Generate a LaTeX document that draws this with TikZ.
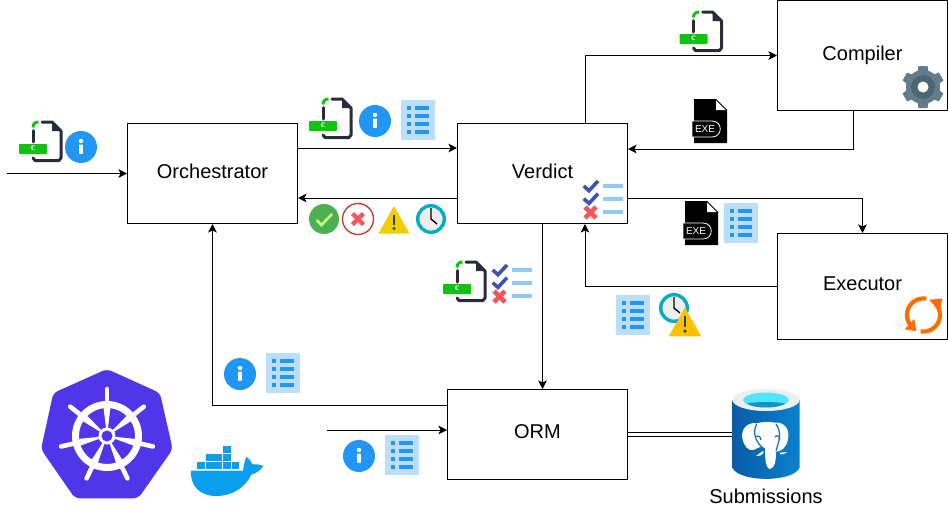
\documentclass[tikz,border=0pt]{standalone}
\usepackage{fontspec}
\setmainfont{Liberation Sans}
\newfontfamily\tagfont{Liberation Serif}
\usepackage{xcolor}
\usetikzlibrary{arrows.meta, calc, positioning}
\definecolor{filedark}{HTML}{282C3A}
\definecolor{tagblue}{HTML}{2196F3}
\definecolor{paleblue}{HTML}{BBDEFB}
\definecolor{barblue}{HTML}{90CAF9}
\definecolor{taggreen}{HTML}{11C211}
\definecolor{tickblue}{HTML}{3F51B5}
\definecolor{crossred}{HTML}{F4575A}
\definecolor{okgreen}{HTML}{4CAF50}
\definecolor{oktick}{HTML}{CCFF90}
\definecolor{ringred}{HTML}{D32F2F}
\definecolor{warnyellow}{HTML}{F2CD00}
\definecolor{warnamber}{HTML}{FFC107}
\definecolor{clockteal}{HTML}{00ACC1}
\definecolor{clockface}{HTML}{EEEEEE}
\definecolor{gearblue}{HTML}{607D8B}
\definecolor{gearslate}{HTML}{4F6672}
\definecolor{looporange}{HTML}{FF6D00}
\definecolor{kubeblue}{HTML}{5036E8}
\definecolor{dockerblue}{HTML}{0B9EEC}
\definecolor{dbblue}{HTML}{0B6CC4}
\definecolor{dbcyan}{HTML}{50E6FF}
\definecolor{dbdeep}{HTML}{1B93C1}
\tikzset{
  service/.style={draw, line width=1pt, minimum width=170pt, inner sep=0pt, text depth=5pt, font=\fontsize{20}{24}\selectfont},
  flow/.style={line width=1pt, -{Stealth[length=8.5pt, width=8.5pt, inset=2pt]}},
  cfile/.pic={
    \draw[filedark, line width=3pt, line cap=round, line join=round] (10,1) -- (20,1) -- (29,10) -- (29,37) -- (27,39.5) -- (3,39.5) -- (1,37);
    \draw[filedark, line width=3pt, line cap=round] (1,9.5) -- (1,21);
    \fill[filedark] (20,1) -- (29,10) -- (20,10) -- cycle;
    \draw[taggreen, line width=3pt] (1,6.5) .. controls (1,3) and (3,1) .. (6.5,1);
    \fill[taggreen, rounded corners=0.8pt] (-13,23) rectangle (15,33);
    \node[text=white, inner sep=0pt, font=\tagfont\bfseries\fontsize{10}{10}\selectfont] (-tag) at (1,27.3) {c};
  },
  infoicon/.pic={
    \fill[tagblue] (0,0) circle (16);
    \fill[white] (0,-6) circle (2.2);
    \fill[white, rounded corners=0.5pt] (-1.9,-2.3) rectangle (1.9,6.8);
  },
  listicon/.pic={
    \fill[paleblue] (0,0) rectangle (34,40);
    \foreach \y in {7.7, 15.7, 23.7, 31.7} {
      \fill[tagblue] (5.7,\y-2) rectangle (9.7,\y+2);
      \fill[tagblue] (14,\y-2) rectangle (28,\y+2);
    }
  },
  checkicon/.pic={
    \foreach \y in {0, 12.7}
      \draw[tickblue, line width=3.6pt] (0.7,6+\y) -- (6,10.7+\y) -- (15,1+\y);
    \draw[crossred, line width=4.6pt] (2,27) -- (13,38);
    \draw[crossred, line width=4.6pt] (13,27) -- (2,38);
    \foreach \y in {4, 17, 30}
      \fill[barblue] (20,\y) rectangle (40,\y+4);
  },
  okicon/.pic={
    \fill[okgreen] (0,0) circle (15);
    \draw[oktick, line width=2.6pt] (-7.5,1) -- (-2.5,6) -- (8,-5);
  },
  failicon/.pic={
    \draw[ringred, line width=1.3pt, fill=white] (0,0) circle (15.5);
    \draw[crossred, line width=4.4pt] (-5.5,-5.5) -- (5.5,5.5);
    \draw[crossred, line width=4.4pt] (5.5,-5.5) -- (-5.5,5.5);
  },
  warnicon/.pic={
    \fill[pic actions, rounded corners=0.8pt] (0,0) -- (15.5,27.5) -- (-15.5,27.5) -- cycle;
    \draw[gearslate!60!black, line width=2.6pt] (0,8.5) -- (0,19);
    \fill[gearslate!60!black] (0,22.5) circle (1.7);
  },
  clockicon/.pic={
    \draw[clockteal, line width=3.4pt, fill=clockface] (0,0) circle (13.3);
    \draw[black, line width=1.4pt] (0,-11) -- (0,0) -- (6,5);
  },
  exefile/.pic={
    \fill[black] (0,0) -- (22,0) -- (33,11) -- (33,44) -- (0,44) -- cycle;
    \fill[white] (22,1.5) -- (31.5,11) -- (22,11) -- cycle;
    \draw[white, line width=0.8pt, fill=black] (-2,22) -- (18,22) .. controls (29,22) and (29,38) .. (18,38) -- (-2,38) -- cycle;
    \node[text=white, inner sep=0pt, font=\fontsize{10}{10}\selectfont] (-tag) at (11,30) {EXE};
  },
  gearicon/.pic={
    \fill[gearblue] (0,0) circle (17);
    \foreach \a in {-90, -30, 30, 90, 150, 210}
      \fill[gearblue, rotate=\a] (12,-6) -- (21,-4.5) -- (21,4.5) -- (12,6) -- cycle;
    \fill[gearslate] (0,0) circle (12);
    \fill[white] (0,0) circle (5.5);
  },
  loopicon/.pic={
    \draw[looporange, line width=4.2pt] plot[domain=-80:-225, samples=24, smooth] ({16.5*cos(\x)},{16.5*sin(\x)});
    \draw[looporange, line width=4.2pt] plot[domain=100:-45, samples=24, smooth] ({16.5*cos(\x)},{16.5*sin(\x)});
    \fill[looporange] (-18.8,14.3) -- (-7,16.2) -- (-9.3,3.8) -- cycle;
    \fill[looporange] (5.6,-15.2) -- (18.8,-16.4) -- (16.3,-3.8) -- cycle;
  }
}
\begin{document}
\begin{tikzpicture}[x=1pt, y=-1pt]
    \useasboundingbox (0,0) rectangle (948,512);
    \node[service, minimum height=100pt] (orchestrator) at (212.5,173.5) {Orchestrator};
    \node[service, minimum height=100pt] (verdict) at (542.5,173.5) {Verdict};
    \node[service, minimum height=110pt] (compiler) at (862.5,55.5) {Compiler};
    \node[service, minimum height=106pt] (executor) at (862.5,286.5) {Executor};
    \node[service, minimum width=180pt, minimum height=90pt] (orm) at (537.5,434.5) {ORM};
    \node[font=\fontsize{20}{24}\selectfont, inner sep=0pt] (submissions) at (766,496) {Submissions};
    \coordinate (inlet) at (7,173.5);
    \coordinate (ormin) at (327,430);
    \coordinate (pgdb) at (733,434.5);

    \draw[flow] (inlet) -- (orchestrator.west);
    \draw[flow] ([yshift=25.5pt]orchestrator.east) -- ([yshift=25.5pt]verdict.west);
    \draw[flow] ([yshift=-24.5pt]verdict.west) -- ([yshift=-24.5pt]orchestrator.east);
    \draw[flow] ([xshift=42.5pt]verdict.north) |- (compiler.west);
    \draw[flow] ([xshift=-9.5pt]compiler.south) |- ([yshift=24.5pt]verdict.east);
    \draw[flow] ([yshift=-24.5pt]verdict.east) -| (executor.north);
    \draw[flow] (executor.west) -| ([xshift=42.5pt]verdict.south);
    \draw[flow] (verdict.south) -- (verdict.south |- orm.north);
    \draw[flow] ([yshift=29.5pt]orm.west) -| (orchestrator.south);
    \draw[flow] (ormin) -- (ormin -| orm.west);
    \draw[line width=1pt, double, double distance=3pt] (orm.east) -- (pgdb);

    \pic (cfilea) at (32,121) {cfile};
    \pic (cfileb) at (322,98) {cfile};
    \pic (cfilec) at (692.5,11) {cfile};
    \pic (cfiled) at (456,261) {cfile};
    \pic (infoa) at (81,147) {infoicon};
    \pic (infob) at (375,121) {infoicon};
    \pic (infoc) at (240,374) {infoicon};
    \pic (infod) at (359,456) {infoicon};
    \pic (lista) at (401,100) {listicon};
    \pic (listb) at (724,203) {listicon};
    \pic (listc) at (616,295) {listicon};
    \pic (listd) at (266,353) {listicon};
    \pic (liste) at (385,435) {listicon};
    \pic (checka) at (583,180) {checkicon};
    \pic (checkb) at (492,264) {checkicon};
    \pic (oka) at (324,219) {okicon};
    \pic (faila) at (358,219) {failicon};
    \pic[fill=warnyellow] (warna) at (394,206) {warnicon};
    \pic (clocka) at (431,219) {clockicon};
    \pic (clockb) at (674,308) {clockicon};
    \pic[fill=warnamber, scale=1.05] (warnb) at (685,307.5) {warnicon};
    \pic (exea) at (694,99) {exefile};
    \pic (exeb) at (685,201) {exefile};
    \pic (gear) at (923,87) {gearicon};
    \pic (loop) at (923.5,315) {loopicon};

    \fill[kubeblue, rounded corners=5pt] (107,369) -- (160,393) -- (172.7,449.3) -- (138.3,498.3) -- (75,498.3) -- (41,449.3) -- (53.3,393) -- cycle;
    \draw[white, line width=7pt] (107,436) circle (31.5);
    \foreach \a in {0, ..., 6} {
      \draw[white, line width=4.6pt, line cap=round] ($(107,436)+(-90+\a*360/7:31)$) -- ($(107,436)+(-90+\a*360/7:47)$);
      \fill[white] ($(107,436)+(-90+\a*360/7-7:30)$) -- ($(107,436)+(-90+\a*360/7+7:30)$) -- (107,436) -- cycle;
    }
    \fill[white] (107,436) circle (8.5);
    \fill[kubeblue] (107,436) circle (5.5);

    \foreach \x/\y in {222.7/446, 205.7/454, 214.2/454, 222.7/454, 196.7/462, 205.7/462, 214.2/462, 222.7/462, 231.5/462}
      \fill[dockerblue] (\x,\y) rectangle ++(7.8,7);
    \fill[dockerblue] (191,470.5) -- (243,470.5) .. controls (244,465) and (244.5,460) .. (246.7,456.7) .. controls (250,460) and (252,462) .. (252.7,464.5) .. controls (256,464) and (260,464.5) .. (263.3,466) .. controls (260,471) and (255,474) .. (251.5,474.5) .. controls (245,488) and (232,496) .. (216,496) .. controls (200,496) and (190,486) .. (191,470.5) -- cycle;

    \shade[left color=dbblue!85!black, right color=dbblue!85!cyan] (732.5,400) -- (732.5,468) .. controls (740,482.5) and (792,482.5) .. (799.5,468) -- (799.5,400) -- cycle;
    \fill[clockface] (766,400) ellipse (33.5 and 11);
    \fill[dbcyan] (766,400) ellipse (23 and 7.5);
    \fill[dbdeep] (747,403.5) .. controls (755,401.5) and (777,401.5) .. (785,403.5) .. controls (778,408.8) and (754,408.8) .. (747,403.5) -- cycle;
    \begin{scope}[shift={(700,380)}, scale=1/3]
      \fill[white] (170,130) .. controls (140,125) and (122,150) .. (127,175) .. controls (130,195) and (145,215) .. (160,210) .. controls (175,205) and (180,195) .. (195,205) .. controls (195,225) and (195,265) .. (210,267) .. controls (225,265) and (228,240) .. (228,215) .. controls (240,215) and (262,205) .. (265,170) .. controls (268,145) and (250,125) .. (225,128) .. controls (212,125) and (185,125) .. (170,130) -- cycle;
      \draw[dbblue, line width=1.2pt] (170,132) .. controls (155,160) and (170,190) .. (190,205);
      \draw[dbblue, line width=1.2pt] (228,132) .. controls (248,160) and (235,190) .. (228,212);
      \draw[dbblue, line width=1.2pt] (166,170) .. controls (176,165) and (184,172) .. (182,180);
      \draw[dbblue, line width=1.2pt] (224,170) .. controls (234,163) and (242,172) .. (238,180);
      \fill[white] (168,228) -- (190,212) -- (190,220) .. controls (184,226) and (176,230) .. (168,228) -- cycle;
      \fill[white] (240,218) -- (262,216) .. controls (256,222) and (246,224) .. (240,222) -- cycle;
    \end{scope}
  \end{tikzpicture}
\end{document}
